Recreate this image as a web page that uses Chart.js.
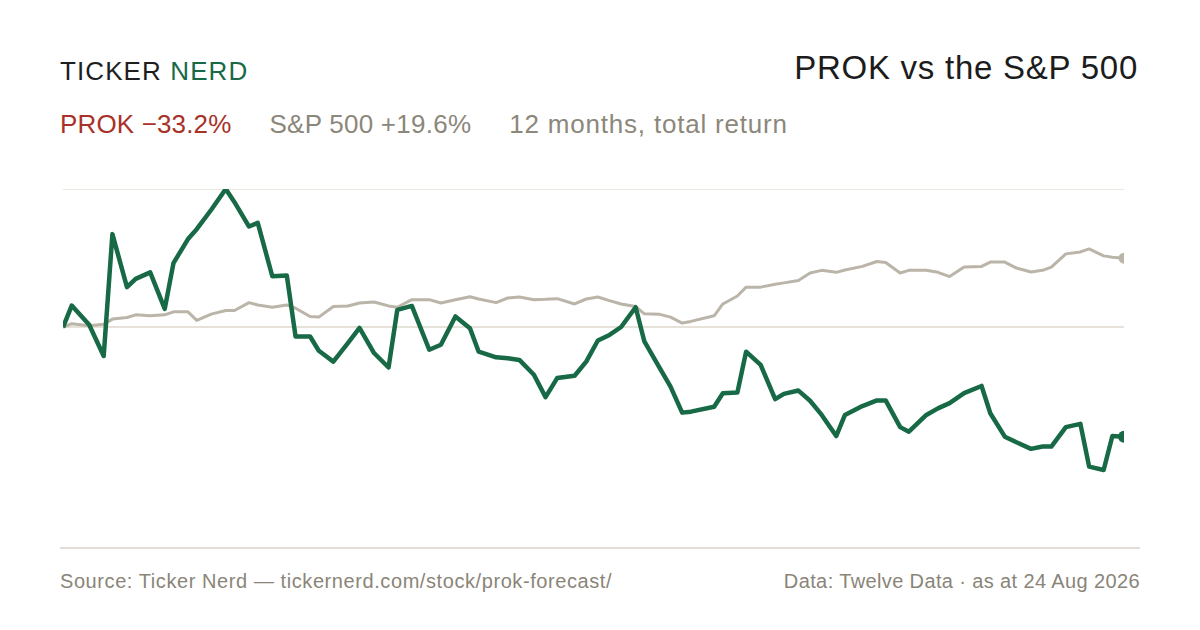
<!DOCTYPE html>
<html>
<head>
<meta charset="utf-8">
<script src="https://cdn.jsdelivr.net/npm/chart.js@4.4.1/dist/chart.umd.min.js"></script>
<style>
    html, body { margin: 0; padding: 0; background: #ffffff; }
    body { width: 1200px; height: 630px; position: relative; overflow: hidden; font-family: "Liberation Sans", Arial, sans-serif; }
    .t { position: absolute; white-space: nowrap; line-height: 1; }
    #brand { left: 60px; top: 57.6px; font-size: 26px; letter-spacing: 1.1px; color: #1e1e1e; }
    #brand span { color: #176a45; }
    #title { right: 62px; top: 50.7px; font-size: 33px; letter-spacing: 0.75px; color: #1c1c1c; }
    #sub { left: 60px; top: 110.6px; font-size: 26px; color: #8c877b; }
    #sub .prok { color: #a8322a; margin-right: 38px; letter-spacing: 0.15px; }
    #sub .spx { margin-right: 38px; letter-spacing: 0.25px; }
    #sub .note { letter-spacing: 0.8px; }
    #rule { position: absolute; left: 60px; top: 547px; width: 1080px; height: 2px; background: #e2ded5; }
    #src { left: 60px; top: 571.4px; font-size: 20px; letter-spacing: 0.58px; color: #8a8578; }
    #asat { right: 60px; top: 571.4px; font-size: 20px; letter-spacing: 0.38px; color: #8a8578; }
    #wrap { position: absolute; left: 53px; top: 179px; width: 1081px; height: 379px; }
</style>
</head>
<body>
<div class="t" id="brand">TICKER <span>NERD</span></div>
<div class="t" id="title">PROK vs the S&amp;P 500</div>
<div class="t" id="sub"><span class="prok">PROK −33.2%</span><span class="spx">S&amp;P 500 +19.6%</span><span class="note">12 months, total return</span></div>
<div id="wrap"><canvas id="chart"></canvas></div>
<div id="rule"></div>
<div class="t" id="src">Source: Ticker Nerd — tickernerd.com/stock/prok-forecast/</div>
<div class="t" id="asat">Data: Twelve Data · as at 24 Aug 2026</div>

<script>
// 交易日（从起点算起的天数）
const days = [
    0, 3, 9, 14, 17, 22, 25, 30, 35, 38,
    43, 46, 51, 56, 59, 64, 67, 72, 77, 80,
    85, 88, 93, 98, 102, 107, 112, 115, 120, 126,
    130, 135, 140, 143, 149, 153, 157, 162, 166, 170,
    176, 180, 184, 188, 192, 197, 200, 205, 209, 213,
    216, 224, 227, 232, 235, 240, 245, 248, 253, 257,
    261, 266, 269, 275, 280, 283, 288, 291, 297, 301,
    305, 310, 316, 319, 324, 328, 333, 337, 340, 345,
    350, 353, 358, 361, 365
];

// PROK 累计收益 (%)
const prokReturn = [
    0, 6.6, 0.8, -8.7, 28.3, 12.2, 14.7, 16.7, 5.6, 19.5,
    26.8, 29.8, 35.7, 42.0, 38.0, 30.6, 31.7, 15.5, 15.7, -2.8,
    -2.8, -7.1, -10.4, -4.8, -0.2, -7.8, -12.2, 5.3, 6.5, -6.8,
    -5.3, 3.3, -0.3, -7.4, -9.1, -9.4, -9.9, -14.4, -21.2, -15.4,
    -14.7, -10.4, -4.0, -2.3, 0.1, 6.1, -4.3, -11.9, -18.0, -25.9,
    -25.6, -24.1, -20.0, -19.8, -7.4, -11.4, -21.8, -20.2, -19.2, -22.3,
    -26.6, -33.0, -26.6, -23.9, -22.2, -22.2, -30.3, -31.7, -26.6, -24.6,
    -23.0, -20.0, -17.8, -26.1, -33.2, -34.9, -36.9, -36.2, -36.2, -30.3,
    -29.3, -42.3, -43.3, -33.0, -33.2
];

// S&P 500 累计收益 (%)
const spxReturn = [
    0, 1.1, 0.5, 0.9, 2.5, 3.0, 3.8, 3.5, 3.8, 4.7,
    4.7, 2.1, 4.0, 5.1, 5.1, 7.5, 6.8, 6.1, 6.8, 5.8,
    3.3, 3.1, 6.3, 6.5, 7.4, 7.7, 6.5, 6.1, 8.4, 8.4,
    7.4, 8.4, 9.3, 8.6, 7.5, 8.9, 9.2, 8.4, 8.5, 8.7,
    7.1, 8.6, 9.2, 8.1, 7.1, 6.3, 4.1, 4.0, 3.1, 1.3,
    1.8, 3.5, 7.1, 9.5, 12.2, 12.2, 13.1, 13.5, 14.2, 16.5,
    17.3, 16.7, 17.4, 18.5, 20.0, 19.7, 16.5, 17.3, 17.3, 16.7,
    15.4, 18.3, 18.5, 19.8, 19.8, 18.0, 16.8, 17.3, 18.3, 22.3,
    22.9, 23.8, 21.7, 21.3, 21.0
];

// 网格线所在的刻度
const gridTicks = [42, 0];

function toPoints(values) {
    return values.map(function(v, i) {
        return { x: days[i], y: v };
    });
}

// 只在最后一个点画圆点
function lastDot(size) {
    return function(ctx) {
        return ctx.dataIndex === ctx.dataset.data.length - 1 ? size : 0;
    };
}

document.addEventListener('DOMContentLoaded', function() {
    const ctx = document.getElementById('chart').getContext('2d');
    window.prokChart = new Chart(ctx, {
        type: 'line',
        data: {
            datasets: [
                {
                    label: 'PROK',
                    data: toPoints(prokReturn),
                    borderColor: '#176a45',
                    backgroundColor: '#176a45',
                    borderWidth: 4.5,
                    tension: 0,
                    pointRadius: lastDot(6),
                    pointBorderWidth: 0,
                    borderJoinStyle: 'round',
                    order: 0
                },
                {
                    label: 'S&P 500',
                    data: toPoints(spxReturn),
                    borderColor: '#bbb4a9',
                    backgroundColor: '#bbb4a9',
                    borderWidth: 3,
                    tension: 0,
                    pointRadius: lastDot(5.5),
                    pointBorderWidth: 0,
                    borderJoinStyle: 'round',
                    order: 1
                }
            ]
        },
        options: {
            responsive: true,
            maintainAspectRatio: false,
            animation: false,
            layout: { padding: 10 },
            plugins: {
                legend: { display: false },
                tooltip: { enabled: false }
            },
            scales: {
                x: {
                    type: 'linear',
                    min: 0,
                    max: 365,
                    display: false
                },
                y: {
                    min: -67,
                    max: 42,
                    afterBuildTicks: function(scale) {
                        scale.ticks = gridTicks.map(function(v) { return { value: v }; });
                    },
                    afterFit: function(scale) {
                        scale.width = 0;
                    },
                    ticks: { display: false },
                    border: { display: false },
                    grid: {
                        drawTicks: false,
                        color: function(c) {
                            return c.tick && c.tick.value === 0 ? '#e6e2da' : '#ebe8e1';
                        },
                        lineWidth: function(c) {
                            return c.tick && c.tick.value === 0 ? 2 : 1;
                        }
                    }
                }
            }
        }
    });
});
</script>
</body>
</html>
